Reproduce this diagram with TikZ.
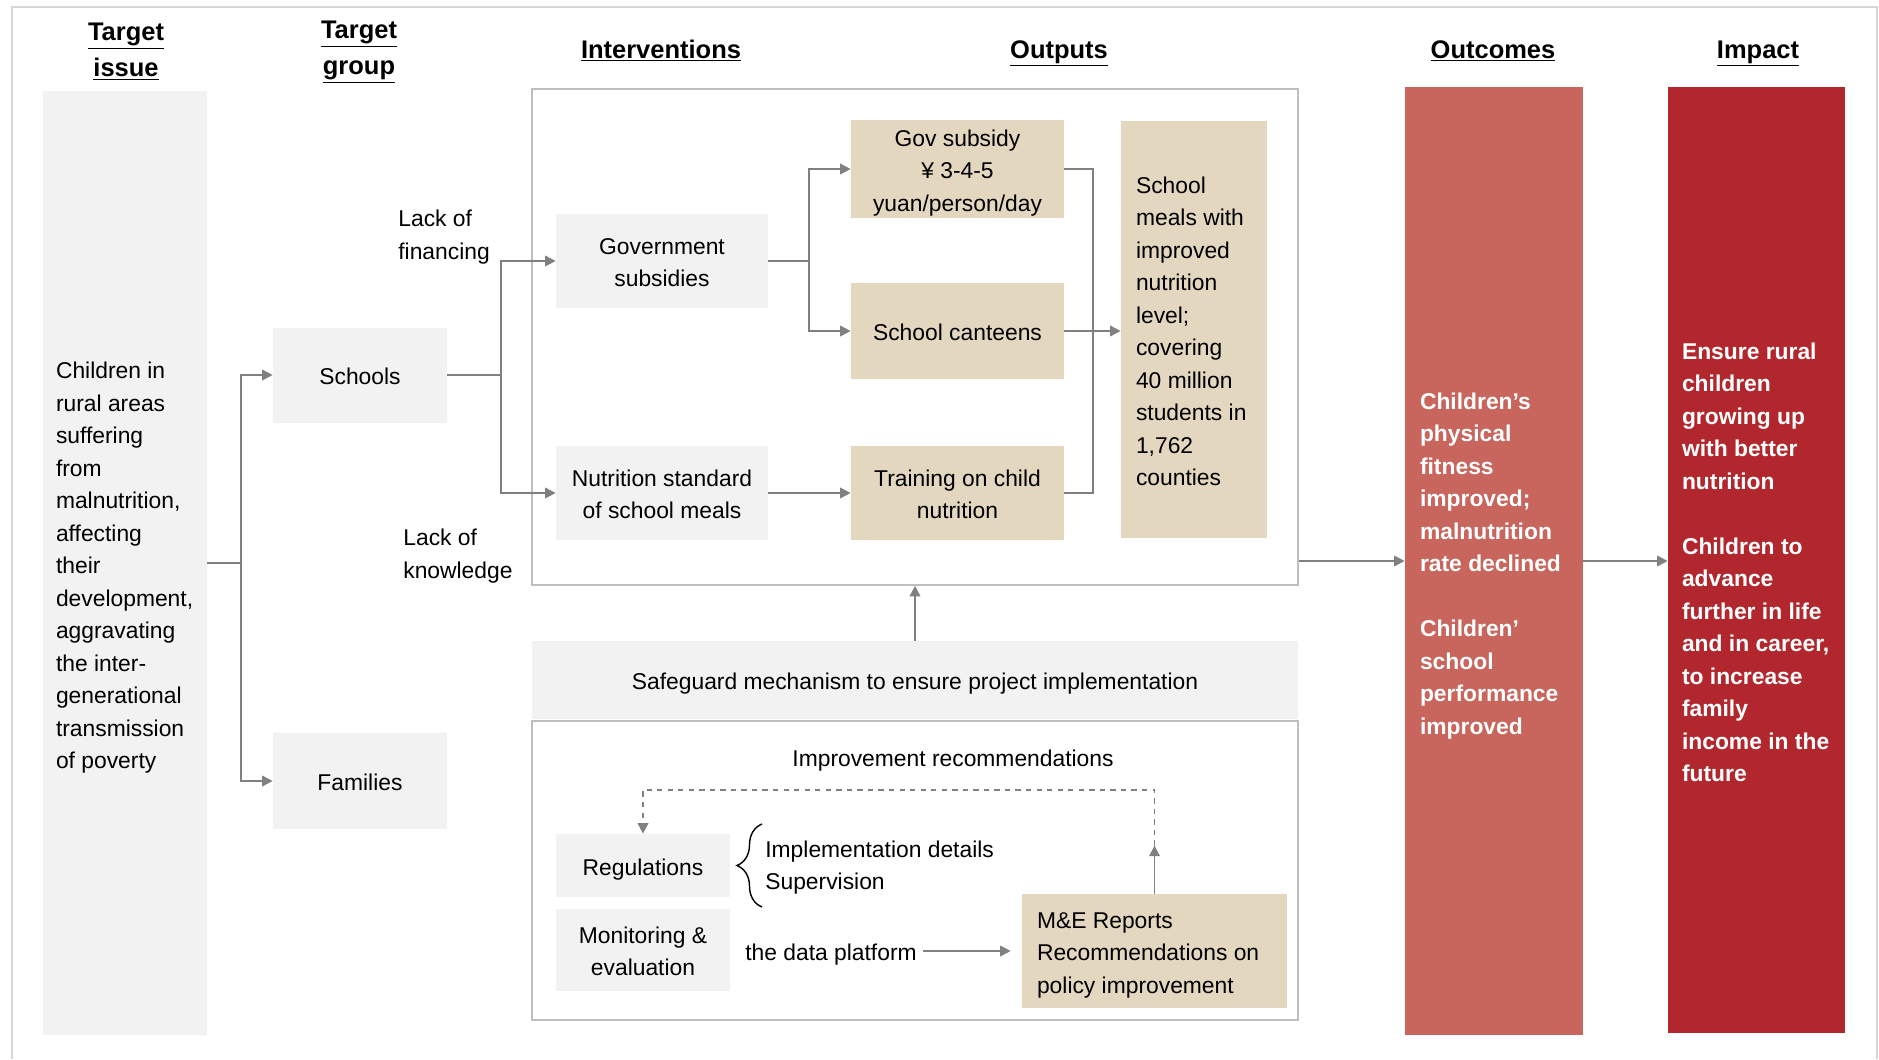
\documentclass[tikz,border=0pt]{standalone}
\usepackage{fontspec}
\setmainfont{Liberation Sans}
\usepackage{tikz}
\usetikzlibrary{arrows.meta,positioning,calc,decorations.pathreplacing}
\definecolor{boxgrey}{HTML}{F2F2F2}
\definecolor{sand}{HTML}{E3D7BF}
\definecolor{rose}{HTML}{C8655D}
\definecolor{crimson}{HTML}{B1272D}
\definecolor{linegrey}{HTML}{808080}
\definecolor{framegrey}{HTML}{BFBFBF}
\definecolor{edgegrey}{HTML}{D6D6D6}
\newcommand{\bodyfont}{\fontsize{13}{18.5}\selectfont}
\newcommand{\strongfont}{\fontsize{13}{18.5}\selectfont\bfseries}
\newcommand{\headfont}{\fontsize{14.5}{20.5}\selectfont\bfseries}
% line box as in the slide: same height and depth for every line
\newcommand{\ls}{\rule[-3.8pt]{0pt}{18.5pt}}

\begin{document}
\begin{tikzpicture}[x=0.02cm,y=-0.02cm,
    greybox/.style={fill=boxgrey,inner sep=0pt,align=center,font=\bodyfont},
    sandbox/.style={fill=sand,inner sep=0pt,align=center,font=\bodyfont},
    frame/.style={draw=framegrey,line width=1pt,inner sep=0pt},
    plain/.style={inner sep=0pt,align=left,font=\bodyfont},
    header/.style={inner sep=0pt,align=center,font=\headfont},
    conn/.style={draw=linegrey,line width=1pt},
    arrow/.style={conn,-{Triangle[length=6pt,width=6pt]}},
    dasharrow/.style={arrow,dashed},
    brace/.style={decorate,decoration={brace,amplitude=0.5cm},line width=0.8pt}]
  \useasboundingbox (0,0) rectangle (1879,1059);
  \draw[edgegrey,line width=1pt] (12,1059) |- (1877,7) -- (1877,1059);

  % headers
  \node[header] (hissue) at (126,51.5) {\underline{Target}\\\underline{issue}};
  \node[header] (hgroup) at (359,52.6) {\underline{Target}\\\underline{group}};
  \node[header,anchor=base] (hinter) at (661,58) {\underline{Interventions}};
  \node[header,anchor=base] (houtput) at (1059,58) {\underline{Outputs}};
  \node[header,anchor=base] (houtcome) at (1493,58) {\underline{Outcomes}};
  \node[header,anchor=base] (himpact) at (1758,58) {\underline{Impact}};

  % frames
  \node[frame,minimum width=15.32cm,minimum height=9.92cm] (intframe) at (915,337) {};
  \node[frame,minimum width=15.32cm,minimum height=5.98cm] (lowframe) at (915,870.5) {};

  % target issue and groups
  \node[greybox,minimum width=3.28cm,minimum height=18.88cm] (issue) at (125,563) {};
  \node[plain,anchor=west] (issuetxt) at ([xshift=0.26cm,yshift=-0.1cm]issue.west)
    {Children in\\rural areas\\suffering\\from\\malnutrition,\\affecting\\their\\development,\\aggravating\\the inter-\\generational\\transmission\\of poverty};
  \node[greybox,minimum width=3.48cm,minimum height=1.9cm] (schools) at (360,375) {\ls Schools};
  \node[greybox,minimum width=3.48cm,minimum height=1.92cm] (families) at (360,781) {\ls Families};
  \node[plain,anchor=west] (lackfin) at (398,237) {Lack of\\financing};
  \node[plain,anchor=west] (lackknow) at (403,556) {Lack of\\knowledge};

  % interventions and outputs
  \node[greybox,minimum width=4.24cm,minimum height=1.88cm] (govsub) at (662,261) {\ls Government\\subsidies\ls};
  \node[greybox,minimum width=4.24cm,minimum height=1.88cm] (nutstd) at (662,493) {\ls Nutrition standard\\of school meals\ls};
  \node[sandbox,minimum width=4.26cm,minimum height=1.92cm] (subsidy) at (957.5,169) {\ls Gov subsidy\\¥ 3-4-5\\yuan/person/day\ls};
  \node[sandbox,minimum width=4.26cm,minimum height=1.92cm] (canteen) at (957.5,331) {\ls School canteens};
  \node[sandbox,minimum width=4.26cm,minimum height=1.88cm] (training) at (957.5,493) {\ls Training on child\\nutrition\ls};
  \node[sandbox,minimum width=2.92cm,minimum height=8.34cm] (meals) at (1194,329.5) {};
  \node[plain,anchor=west] (mealstxt) at ([xshift=0.3cm,yshift=-0.04cm]meals.west)
    {School\\meals with\\improved\\nutrition\\level;\\covering\\40 million\\students in\\1,762\\counties};

  % safeguard
  \node[greybox,minimum width=15.32cm,minimum height=1.56cm] (safe) at (915,680) {\ls Safeguard mechanism to ensure project implementation};
  \node[plain] (imprec) at (953,760.5) {Improvement recommendations};
  \node[greybox,minimum width=3.48cm,minimum height=1.26cm] (regs) at (643,865.5) {\ls Regulations};
  \node[greybox,minimum width=3.48cm,minimum height=1.64cm] (monitor) at (643,950) {\ls Monitoring \&\\evaluation\ls};
  \node[plain,anchor=west] (impl) at (765,867.5) {Implementation details\\Supervision};
  \node[plain] (dataplat) at (831,954.5) {the data platform};
  \node[sandbox,minimum width=5.3cm,minimum height=2.28cm] (me) at (1154.5,951) {};
  \node[plain,anchor=west] (metxt) at ([xshift=0.3cm,yshift=-0.08cm]me.west) {M\&E Reports\\Recommendations on\\policy improvement};

  % outcomes and impact
  \node[fill=rose,minimum width=3.56cm,minimum height=18.96cm] (outcome) at (1494,561) {};
  \node[plain,font=\strongfont,text=white,anchor=west] (outcometxt) at ([xshift=0.3cm,yshift=-0.1cm]outcome.west)
    {Children’s\\physical\\fitness\\improved;\\malnutrition\\rate declined\\[18.5pt]Children’\\school\\performance\\improved};
  \node[fill=crimson,minimum width=3.54cm,minimum height=18.92cm] (impact) at (1756.5,560) {};
  \node[plain,font=\strongfont,text=white,anchor=west] (impacttxt) at ([xshift=0.28cm,yshift=-0.05cm]impact.west)
    {Ensure rural\\children\\growing up\\with better\\nutrition\\[18.5pt]Children to\\advance\\further in life\\and in career,\\to increase\\family\\income in the\\future};

  % connectors
  \draw[conn] (issue.east) -- ++(34,0) coordinate (split1);
  \draw[arrow] (split1) |- (schools.west);
  \draw[arrow] (split1) |- (families.west);
  \draw[conn] (schools.east) -- ++(54,0) coordinate (split2);
  \draw[arrow] (split2) |- (govsub.west);
  \draw[arrow] (split2) |- (nutstd.west);
  \draw[conn] (govsub.east) -- ++(41,0) coordinate (split3);
  \draw[arrow] (split3) |- (subsidy.west);
  \draw[arrow] (split3) |- (canteen.west);
  \draw[arrow] (nutstd.east) -- (training.west);
  \coordinate (merge) at (1093,331);
  \draw[conn] (subsidy.east) -| (merge);
  \draw[conn] (training.east) -| (merge);
  \draw[arrow] (canteen.east) -- (canteen.east -| meals.west);
  \draw[arrow] (intframe.east |- outcome.west) -- (outcome.west);
  \draw[arrow] (outcome.east) -- (outcome.east -| impact.west);
  \draw[arrow] (safe.north) -- (intframe.south);
  \draw[arrow,shorten <=0.12cm,shorten >=0.22cm] (dataplat.east |- me.west) -- (me.west);
  \draw[arrow] (me.north) -- ++(0,-48) coordinate (fbmid);
  \draw[dasharrow] (fbmid) -- ++(0,-56) -| (regs.north);
  \draw[brace] (762,907) -- (762,824);
\end{tikzpicture}
\end{document}
